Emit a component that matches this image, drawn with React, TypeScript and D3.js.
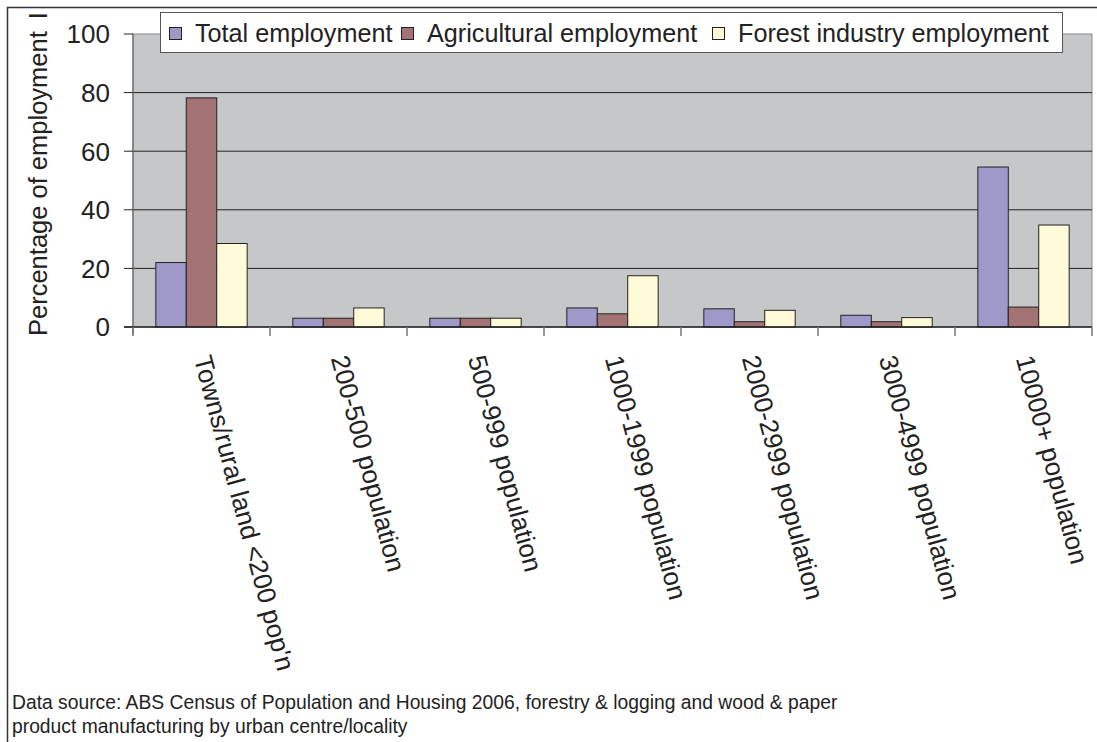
import React, { useEffect, useRef } from "react";
import { select, scaleBand, scaleLinear } from "d3";

const categories = [
  "Towns/rural land <200 pop'n",
  "200-500 population",
  "500-999 population",
  "1000-1999 population",
  "2000-2999 population",
  "3000-4999 population",
  "10000+ population",
];
const seriesNames = [
  "Total employment",
  "Agricultural employment",
  "Forest industry employment",
];
const totalEmployment = [22, 3, 3, 6.5, 6.2, 4, 54.6];
const agriculturalEmployment = [78.2, 3, 3, 4.5, 1.8, 1.8, 6.8];
const forestEmployment = [28.5, 6.5, 3, 17.5, 5.7, 3.2, 34.8];
const yTicks = [0, 20, 40, 60, 80, 100];
const sourceLines = [
  "Data source: ABS Census of Population and Housing 2006, forestry & logging and wood & paper",
  "product manufacturing by urban centre/locality",
];

const colors = ["#9e99c9", "#a37373", "#fffad8"];
const W = 1097;
const H = 742;
const font = "Arial, 'Liberation Sans', sans-serif";

export default function App() {
  const svgRef = useRef<SVGSVGElement | null>(null);

  useEffect(() => {
    const svg = select(svgRef.current);
    svg.selectAll("*").remove();
    svg.attr("width", W).attr("height", H);

    const left = 133;
    const right = 1092;
    const top = 34;
    const bottom = 327;

    const x = scaleBand().domain(categories).range([left, right]);
    const xInner = scaleBand()
      .domain(seriesNames)
      .range([0, x.bandwidth()])
      .paddingOuter(0.75);
    const y = scaleLinear().domain([0, 100]).range([bottom, top]);

    const values = [totalEmployment, agriculturalEmployment, forestEmployment];

    // clip for the cut-off axis title
    svg
      .append("clipPath")
      .attr("id", "frameClip")
      .append("rect")
      .attr("x", 8)
      .attr("y", 10)
      .attr("width", W)
      .attr("height", H);

    // outer frame
    svg
      .append("path")
      .attr("d", `M7.5,${H} V7.5 H${W}`)
      .attr("fill", "none")
      .attr("stroke", "#333")
      .attr("stroke-width", 1.5);

    // plot area
    svg
      .append("rect")
      .attr("x", left)
      .attr("y", top)
      .attr("width", right - left)
      .attr("height", bottom - top)
      .attr("fill", "#c6c7c9")
      .attr("stroke", "#8a8a8a")
      .attr("stroke-width", 1);

    // gridlines
    svg
      .append("g")
      .selectAll("line")
      .data(yTicks.filter((d) => d > 0 && d < 100))
      .join("line")
      .attr("x1", left)
      .attr("x2", right)
      .attr("y1", (d) => y(d))
      .attr("y2", (d) => y(d))
      .attr("stroke", "#222")
      .attr("stroke-width", 1);

    // y axis
    const yAxis = svg.append("g");
    yAxis
      .append("line")
      .attr("x1", left)
      .attr("x2", left)
      .attr("y1", top)
      .attr("y2", bottom + 8)
      .attr("stroke", "#777")
      .attr("stroke-width", 1.5);
    yAxis
      .selectAll("line.tick")
      .data(yTicks)
      .join("line")
      .attr("class", "tick")
      .attr("x1", left - 9)
      .attr("x2", left)
      .attr("y1", (d) => y(d))
      .attr("y2", (d) => y(d))
      .attr("stroke", "#222")
      .attr("stroke-width", 1);
    yAxis
      .selectAll("text")
      .data(yTicks)
      .join("text")
      .attr("x", left - 23)
      .attr("y", (d) => y(d))
      .attr("dy", "0.36em")
      .attr("text-anchor", "end")
      .attr("font-family", font)
      .attr("font-size", 26)
      .attr("fill", "#222")
      .text((d) => d);

    // bars
    const groups = svg
      .append("g")
      .selectAll("g")
      .data(categories)
      .join("g")
      .attr("transform", (d) => `translate(${x(d)},0)`);
    groups
      .selectAll("rect")
      .data((c) =>
        seriesNames.map((s, si) => ({ s, si, v: values[si][categories.indexOf(c)] }))
      )
      .join("rect")
      .attr("x", (d) => xInner(d.s)!)
      .attr("y", (d) => y(d.v))
      .attr("width", xInner.bandwidth())
      .attr("height", (d) => y(0) - y(d.v))
      .attr("fill", (d) => colors[d.si])
      .attr("stroke", "#222")
      .attr("stroke-width", 1);

    // x axis
    const xAxis = svg.append("g");
    xAxis
      .append("line")
      .attr("x1", left - 9)
      .attr("x2", right)
      .attr("y1", bottom)
      .attr("y2", bottom)
      .attr("stroke", "#222")
      .attr("stroke-width", 1.5);
    xAxis
      .selectAll("line.tick")
      .data([...categories.map((c) => x(c)!), right])
      .join("line")
      .attr("class", "tick")
      .attr("x1", (d) => d)
      .attr("x2", (d) => d)
      .attr("y1", bottom)
      .attr("y2", bottom + 9)
      .attr("stroke", "#777")
      .attr("stroke-width", 1.5);
    xAxis
      .selectAll("text")
      .data(categories)
      .join("text")
      .attr(
        "transform",
        (d) => `translate(${x(d)! + x.bandwidth() / 2 + 1},356) rotate(75)`
      )
      .attr("dy", "0.35em")
      .attr("text-anchor", "start")
      .attr("font-family", font)
      .attr("font-size", 26)
      .attr("fill", "#222")
      .text((d) => d);

    // y label (cut at the frame top, as in the original)
    const yLabel = svg
      .append("g")
      .attr("clip-path", "url(#frameClip)")
      .append("text")
      .attr("transform", "translate(47,336) rotate(-90)")
      .attr("font-family", font)
      .attr("font-size", 25.5)
      .attr("fill", "#222");
    yLabel.append("tspan").text("Percentage of employment");
    yLabel.append("tspan").attr("dx", 12).text("I");

    // legend
    const legend = svg.append("g");
    legend
      .append("rect")
      .attr("x", 160.5)
      .attr("y", 12.5)
      .attr("width", 902)
      .attr("height", 40)
      .attr("fill", "#fff")
      .attr("stroke", "#555")
      .attr("stroke-width", 1);
    const legendX = [169, 401, 712];
    const items = legend
      .selectAll("g")
      .data(seriesNames)
      .join("g")
      .attr("transform", (d, i) => `translate(${legendX[i]},0)`);
    items
      .append("rect")
      .attr("x", 0.5)
      .attr("y", 27.5)
      .attr("width", 12)
      .attr("height", 12)
      .attr("fill", (d, i) => colors[i])
      .attr("stroke", "#222")
      .attr("stroke-width", 1);
    items
      .append("text")
      .attr("x", 26)
      .attr("y", 42)
      .attr("font-family", font)
      .attr("font-size", 25.2)
      .attr("fill", "#222")
      .text((d) => d);

    // source note
    svg
      .append("g")
      .selectAll("text")
      .data(sourceLines)
      .join("text")
      .attr("x", 12)
      .attr("y", (d, i) => 709 + i * 24)
      .attr("font-family", font)
      .attr("font-size", 19.3)
      .attr("fill", "#222")
      .text((d) => d);
  }, []);

  return (
    <div style={{ position: "absolute", left: 0, top: 0 }}>
      <svg ref={svgRef}></svg>
    </div>
  );
}
